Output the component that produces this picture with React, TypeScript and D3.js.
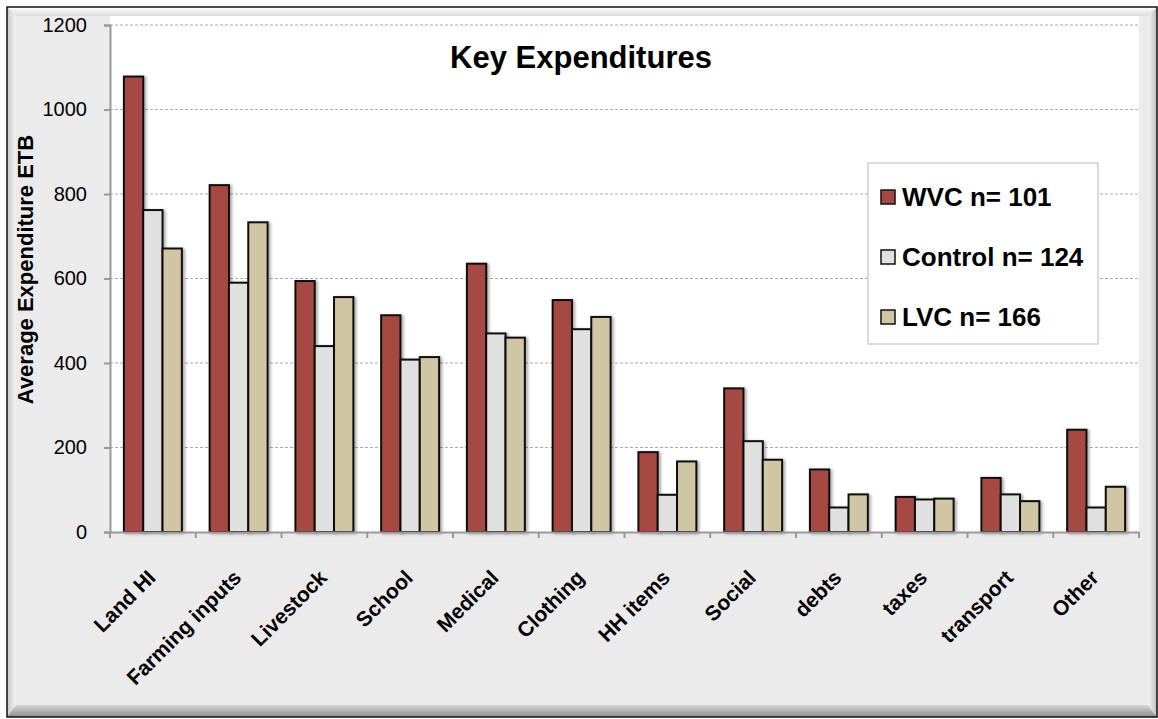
import React, { useEffect, useRef } from "react";
import * as d3 from "d3";

const categories = [
  "Land HI", "Farming inputs", "Livestock", "School", "Medical", "Clothing",
  "HH items", "Social", "debts", "taxes", "transport", "Other",
];
const seriesNames = ["WVC n= 101", "Control n= 124", "LVC n= 166"];
const wvcValues = [1078, 821, 594, 513, 635, 549, 189, 340, 148, 83, 128, 242];
const controlValues = [762, 590, 440, 408, 470, 480, 88, 215, 58, 77, 89, 58];
const lvcValues = [671, 733, 556, 414, 460, 509, 167, 171, 89, 79, 73, 107];
const yTicks = [0, 200, 400, 600, 800, 1000, 1200];
const colors = ["#a54a43", "#e0e0e0", "#d0c6a4"];

const W = 1158;
const H = 719;

const App = () => {
  const ref = useRef<SVGSVGElement>(null);

  useEffect(() => {
    document.body.style.margin = "0";
    if (!ref.current) return;
    const svg = d3.select(ref.current);
    svg.selectAll("*").remove();

    const font = "'Liberation Sans', Arial, sans-serif";
    const plot = { left: 110, right: 1139, top: 16, bottom: 532 };

    const defs = svg.append("defs");
    const shadow = defs.append("filter").attr("id", "barShadow")
      .attr("x", "-30%").attr("y", "-10%").attr("width", "170%").attr("height", "130%");
    shadow.append("feDropShadow")
      .attr("dx", 2).attr("dy", 1).attr("stdDeviation", 1.6)
      .attr("flood-color", "#000").attr("flood-opacity", 0.35);

    const grad = (id: string, x2: string, y2: string, c1: string, c2: string) => {
      const g = defs.append("linearGradient").attr("id", id)
        .attr("x1", "0%").attr("y1", "0%").attr("x2", x2).attr("y2", y2);
      g.append("stop").attr("offset", "0%").attr("stop-color", c1);
      g.append("stop").attr("offset", "100%").attr("stop-color", c2);
    };
    grad("bevTop", "0%", "100%", "#ffffff", "#dcdcdc");
    grad("bevLeft", "100%", "0%", "#c8c8c8", "#f2f2f2");
    grad("bevBottom", "0%", "100%", "#d4d4d4", "#8e8e8e");
    grad("bevRight", "100%", "0%", "#f4f4f4", "#bdbdbd");

    // Frame with bevel
    const o = { x0: 7, y0: 7, x1: 1157, y1: 717 };
    const b = 9;
    svg.append("rect").attr("x", o.x0).attr("y", o.y0)
      .attr("width", o.x1 - o.x0).attr("height", o.y1 - o.y0).attr("fill", "#ebebeb");
    const poly = (pts: number[][], fill: string) =>
      svg.append("polygon").attr("points", pts.map(p => p.join(",")).join(" ")).attr("fill", fill);
    poly([[o.x0, o.y0], [o.x1, o.y0], [o.x1 - b, o.y0 + b], [o.x0 + b, o.y0 + b]], "url(#bevTop)");
    poly([[o.x0, o.y0], [o.x0 + b, o.y0 + b], [o.x0 + b, o.y1 - b - 3], [o.x0, o.y1]], "url(#bevLeft)");
    poly([[o.x0, o.y1], [o.x0 + b, o.y1 - b - 3], [o.x1 - b, o.y1 - b - 3], [o.x1, o.y1]], "url(#bevBottom)");
    poly([[o.x1, o.y0], [o.x1, o.y1], [o.x1 - b, o.y1 - b - 3], [o.x1 - b, o.y0 + b]], "url(#bevRight)");
    svg.append("rect").attr("x", o.x0).attr("y", o.y0)
      .attr("width", o.x1 - o.x0).attr("height", o.y1 - o.y0)
      .attr("fill", "none").attr("stroke", "#111").attr("stroke-width", 1.5);

    // Plot area
    svg.append("rect").attr("x", plot.left).attr("y", plot.top)
      .attr("width", plot.right - plot.left).attr("height", plot.bottom - plot.top)
      .attr("fill", "#ffffff");

    const y = d3.scaleLinear().domain([0, 1200]).range([plot.bottom, 25]);
    const x0 = d3.scaleBand().domain(categories).range([plot.left, plot.right]).padding(0);
    const x1 = d3.scaleBand().domain(seriesNames).range([0, x0.bandwidth()])
      .paddingInner(0).paddingOuter(0.72);

    // Gridlines
    svg.append("g").selectAll("line").data(yTicks.filter(t => t > 0)).enter().append("line")
      .attr("x1", plot.left).attr("x2", plot.right)
      .attr("y1", d => y(d)).attr("y2", d => y(d))
      .attr("stroke", "#ababab").attr("stroke-width", 1).attr("stroke-dasharray", "3,2");

    // Bars
    const series = [wvcValues, controlValues, lvcValues];
    const rows = categories.map((c, i) => ({ c, vals: series.map(s => s[i]) }));
    const groups = svg.append("g").selectAll("g").data(rows).enter().append("g")
      .attr("transform", d => `translate(${x0(d.c)},0)`);
    groups.selectAll("rect")
      .data(d => d.vals.map((v, k) => ({ v, k })))
      .enter().append("rect")
      .attr("x", d => x1(seriesNames[d.k]) || 0)
      .attr("y", d => y(d.v))
      .attr("width", x1.bandwidth())
      .attr("height", d => y(0) - y(d.v))
      .attr("fill", d => colors[d.k])
      .attr("stroke", "#111").attr("stroke-width", 2)
      .attr("filter", "url(#barShadow)");

    // Y axis
    const yAxis = svg.append("g").attr("transform", `translate(${plot.left},0)`)
      .call(d3.axisLeft(y).tickValues(yTicks).tickSize(6).tickPadding(17).tickFormat(d3.format("d")));
    yAxis.select(".domain").attr("stroke", "#999").attr("stroke-width", 2);
    yAxis.selectAll(".tick line").attr("stroke", "#999").attr("stroke-width", 2);
    yAxis.selectAll("text").attr("font-family", font).attr("font-size", 20).attr("fill", "#000");

    // X axis
    const xAxis = svg.append("g").attr("transform", `translate(0,${plot.bottom})`)
      .call(d3.axisBottom(x0).tickSize(0).tickFormat(() => ""));
    xAxis.select(".domain").attr("stroke", "#999").attr("stroke-width", 2);
    const bounds = categories.map(c => x0(c) || 0).concat([plot.right]);
    svg.append("g").selectAll("line").data(bounds).enter().append("line")
      .attr("x1", d => d).attr("x2", d => d)
      .attr("y1", plot.bottom).attr("y2", plot.bottom + 6)
      .attr("stroke", "#999").attr("stroke-width", 2);

    svg.append("g").selectAll("text").data(categories).enter().append("text")
      .attr("transform", d => `translate(${(x0(d) || 0) + x0.bandwidth() / 2 + 4},579) rotate(-45)`)
      .attr("text-anchor", "end")
      .attr("font-family", font).attr("font-size", 21).attr("font-weight", "bold")
      .attr("fill", "#000")
      .text(d => d);

    // Y axis title
    svg.append("text")
      .attr("transform", `translate(33,${(y(0) + y(1200)) / 2 - 9}) rotate(-90)`)
      .attr("text-anchor", "middle")
      .attr("font-family", font).attr("font-size", 22).attr("font-weight", "bold")
      .text("Average Expenditure ETB");

    // Title
    svg.append("text")
      .attr("x", 581).attr("y", 68)
      .attr("text-anchor", "middle")
      .attr("font-family", font).attr("font-size", 31).attr("font-weight", "bold")
      .text("Key Expenditures");

    // Legend
    const legend = svg.append("g").attr("transform", "translate(868,163)");
    legend.append("rect").attr("width", 230).attr("height", 181)
      .attr("fill", "#fff").attr("stroke", "#cfcfcf").attr("stroke-width", 1.5);
    seriesNames.forEach((name, k) => {
      const cy = 34 + k * 60;
      legend.append("rect").attr("x", 13).attr("y", cy - 7).attr("width", 14).attr("height", 14)
        .attr("fill", colors[k]).attr("stroke", "#111").attr("stroke-width", 1.5);
      legend.append("text").attr("x", 34).attr("y", cy + 9)
        .attr("font-family", font).attr("font-size", 26).attr("font-weight", "bold")
        .text(name);
    });
  }, []);

  return <svg ref={ref} width={W} height={H} style={{ display: "block" }} />;
};

export default App;
